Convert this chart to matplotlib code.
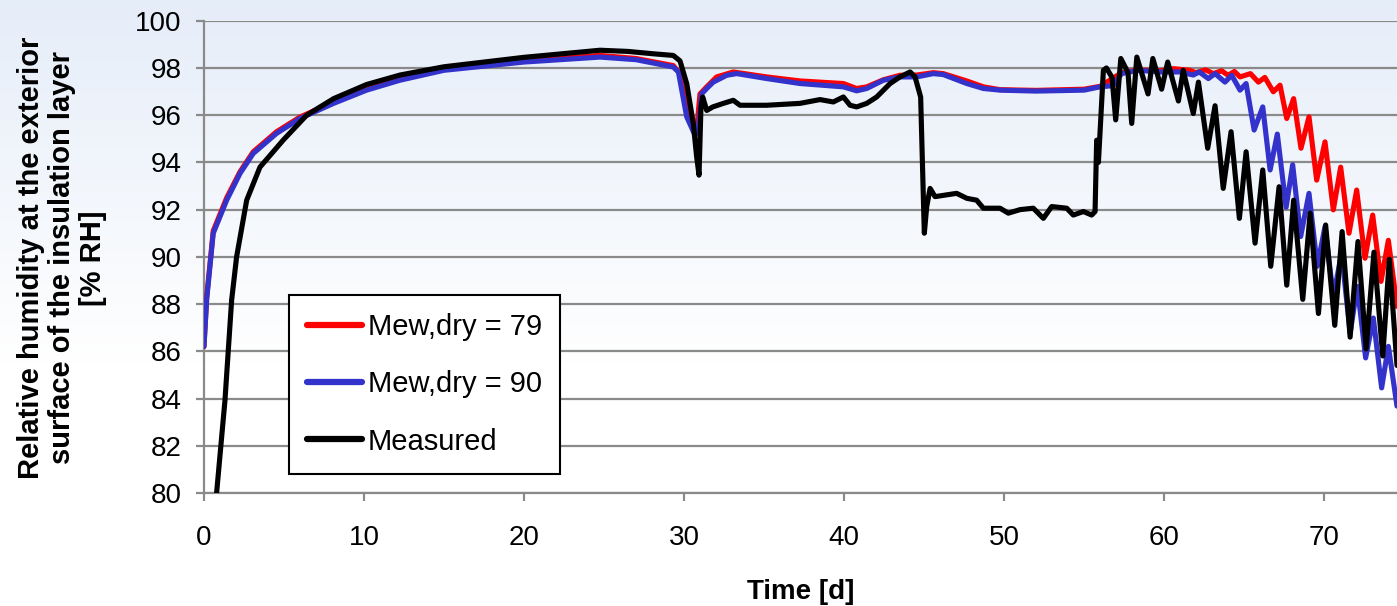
import numpy as np
import matplotlib
matplotlib.use("Agg")
import matplotlib.pyplot as plt

plt.rcParams['font.family'] = ['Liberation Sans', 'DejaVu Sans']

# simulated, Mew,dry = 79
red_day = [0, 0.17, 0.58, 1.42, 2.25, 3.08, 4.54, 6.0, 8.1, 10.17,
           12.25, 15, 20, 24.75, 27, 29.33, 29.75, 30.27, 30.79, 31.0,
           31.42, 32.04, 33.08, 35.17, 37.25, 39.96, 40.79, 41.42, 42.46, 43.5,
           44.54, 45.58, 46.2, 47.67, 48.71, 49.75, 52, 55, 56.0, 57.35,
           58.4, 59.75, 60.58, 61.6, 62.0, 62.6, 63.08, 63.6, 64.0, 64.4,
           64.75, 65.4, 65.9, 66.3, 66.83, 67.25, 67.67, 68.1, 68.56, 69.06,
           69.54, 70.06, 70.58, 71.04, 71.56, 72.04, 72.56, 73.04, 73.56, 74.02,
           74.56]
red_rh = [86.2, 88.3, 91.1, 92.5, 93.6, 94.45, 95.3, 95.92, 96.56, 97.1,
          97.52, 97.95, 98.3, 98.53, 98.4, 98.1, 97.76, 95.93, 95.37, 96.9,
          97.2, 97.62, 97.83, 97.62, 97.45, 97.34, 97.13, 97.2, 97.5, 97.69,
          97.7, 97.8, 97.76, 97.45, 97.2, 97.08, 97.05, 97.1, 97.22, 97.8,
          97.92, 97.88, 97.97, 97.9, 97.8, 97.92, 97.76, 97.88, 97.69, 97.85,
          97.62, 97.76, 97.4, 97.6, 96.99, 97.27, 95.86, 96.7, 94.6, 95.93,
          93.25, 94.87, 91.99, 93.8, 91.0, 92.83, 89.94, 91.77, 88.96, 90.7,
          87.9]

# simulated, Mew,dry = 90
blue_day = [0, 0.17, 0.58, 1.42, 2.25, 3.08, 4.54, 6.0, 8.1, 10.17,
            12.25, 15, 20, 24.75, 27, 29.33, 29.65, 30.17, 30.69, 30.9,
            31.1, 31.42, 31.83, 32.67, 33.3, 35.17, 37.25, 39.96, 40.79, 41.42,
            42.46, 43.5, 44.54, 45.58, 46.2, 47.67, 48.71, 49.75, 52, 55,
            56.0, 56.8, 57.35, 58.4, 59.75, 61.0, 61.83, 62.2, 62.77, 63.19,
            63.81, 64.23, 64.75, 65.13, 65.63, 66.17, 66.63, 67.08, 67.63, 68.04,
            68.54, 69.06, 69.58, 70.06, 70.58, 71.1, 71.63, 72.08, 72.6, 73.08,
            73.6, 74.02, 74.56]
blue_rh = [86.2, 88.2, 91.0, 92.4, 93.53, 94.38, 95.23, 95.86, 96.5, 97.06,
           97.48, 97.9, 98.25, 98.46, 98.35, 98.04, 97.83, 95.93, 95.15, 95.4,
           96.9, 97.13, 97.4, 97.69, 97.76, 97.55, 97.34, 97.2, 97.03, 97.13,
           97.48, 97.62, 97.62, 97.76, 97.72, 97.34, 97.13, 97.06, 97.02, 97.06,
           97.2, 97.25, 97.76, 97.9, 97.83, 97.83, 97.7, 97.83, 97.55, 97.76,
           97.4, 97.69, 97.06, 97.34, 95.37, 96.35, 93.68, 95.2, 92.1, 93.9,
           90.86, 92.69, 89.6, 91.28, 88.32, 90.15, 86.77, 88.75, 85.72, 87.41,
           84.45, 86.21, 83.68]

# measured
black_day = [0.79, 1.31, 1.73, 2.04, 2.67, 3.5, 4.96, 6.42, 8.1, 10.17,
             12.25, 15, 20, 24.75, 26.5, 28.08, 29.33, 29.75, 30.17, 30.58,
             30.79, 30.94, 31.06, 31.17, 31.42, 31.8, 32.46, 33.08, 33.5, 35.17,
             37.25, 38.5, 39.33, 39.96, 40.38, 40.79, 41.42, 42.04, 42.88, 43.5,
             44.13, 44.44, 44.79, 44.92, 45.02, 45.17, 45.38, 45.69, 47.04, 47.67,
             48.29, 48.71, 49.75, 50.27, 51.0, 51.83, 52.46, 52.98, 53.92, 54.33,
             54.96, 55.48, 55.69, 55.79, 55.9, 56.21, 56.4, 56.75, 56.98, 57.3,
             57.75, 57.98, 58.3, 59.0, 59.3, 59.85, 60.23, 60.9, 61.2, 61.83,
             62.15, 62.73, 63.19, 63.7, 64.19, 64.71, 65.13, 65.69, 66.17, 66.67,
             67.19, 67.67, 68.1, 68.67, 69.13, 69.65, 70.1, 70.67, 71.13, 71.63,
             72.12, 72.63, 73.12, 73.67, 74.08, 74.56]
black_rh = [80.0, 83.9, 88.17, 90.0, 92.4, 93.8, 94.95, 96.0, 96.7, 97.3,
            97.7, 98.05, 98.45, 98.75, 98.7, 98.6, 98.53, 98.3, 97.34, 95.65,
            94.24, 93.46, 96.35, 96.77, 96.2, 96.35, 96.5, 96.63, 96.42, 96.42,
            96.5, 96.66, 96.56, 96.77, 96.42, 96.35, 96.5, 96.77, 97.34, 97.62,
            97.83, 97.62, 96.77, 93.5, 91.0, 92.13, 92.9, 92.55, 92.69, 92.48,
            92.4, 92.06, 92.06, 91.85, 92.0, 92.06, 91.63, 92.13, 92.06, 91.77,
            91.92, 91.77, 91.92, 94.94, 94.0, 97.9, 98.0, 97.6, 95.8, 98.4,
            97.8, 95.65, 98.46, 96.9, 98.4, 97.1, 98.25, 96.6, 97.9, 96.07,
            97.4, 94.6, 96.4, 92.9, 95.3, 91.63, 94.45, 90.58, 93.68, 89.6,
            92.97, 88.8, 92.4, 88.2, 91.85, 87.6, 91.35, 87.1, 91.07, 86.6,
            90.65, 86.1, 90.2, 85.8, 89.9, 85.4]

fig = plt.figure(figsize=(13.97, 6.06), dpi=100)

# light blue slide background fading to white
bg = fig.add_axes([0, 0, 1, 1], zorder=-10)
grad = np.linspace(0, 1, 256).reshape(-1, 1)
top = np.array([0.90, 0.93, 0.975])
white = np.array([1.0, 1.0, 1.0])
w = np.clip(grad / 0.6, 0, 1)
img = top * (1 - w) + white * w
bg.imshow(img.reshape(256, 1, 3), aspect='auto', extent=[0, 1, 0, 1])
bg.axis('off')

ax = fig.add_axes([0.146, 0.1865, 0.854, 0.7793])
ax.set_facecolor('none')

lw = 3.7
ax.plot(red_day, red_rh, color='#FF0000', lw=lw, label='Mew,dry = 79',
        solid_joinstyle='round', solid_capstyle='round', zorder=3)
ax.plot(blue_day, blue_rh, color='#3333CC', lw=lw, label='Mew,dry = 90',
        solid_joinstyle='round', solid_capstyle='round', zorder=4)
ax.plot(black_day, black_rh, color='black', lw=lw, label='Measured',
        solid_joinstyle='round', solid_capstyle='round', zorder=5)

ax.set_xlim(0, 74.56)
ax.set_ylim(80, 100)
ax.set_xticks(np.arange(0, 80, 10))
ax.set_yticks(np.arange(80, 101, 2))
ax.grid(axis='y', color='#8a8a8a', lw=1.6)
ax.set_axisbelow(True)
for s in ['top', 'right']:
    ax.spines[s].set_visible(False)
for s in ['left', 'bottom']:
    ax.spines[s].set_color('#8a8a8a')
    ax.spines[s].set_linewidth(1.6)
ax.tick_params(axis='both', colors='#8a8a8a', width=1.6, length=6,
               labelsize=20, labelcolor='black')
ax.tick_params(axis='y', pad=10)
ax.tick_params(axis='x', pad=17)

ax.set_xlabel('Time [d]', fontsize=20, fontweight='bold', labelpad=20)
fig.text(62 / 1397, 1 - 258 / 606,
         'Relative humidity at the exterior\nsurface of the insulation layer\n[% RH]',
         rotation=90, ha='center', va='center', multialignment='center',
         fontsize=21, fontweight='bold', linespacing=1.12)

leg = ax.legend(loc='upper left', bbox_to_anchor=(0.0712, 0.419),
                borderaxespad=0, fontsize=21, frameon=True, fancybox=False,
                framealpha=1, edgecolor='black', handlelength=1.9,
                handletextpad=0.18, labelspacing=1.0, borderpad=0.62)
leg.get_frame().set_linewidth(1.5)
for line in leg.get_lines():
    line.set_linewidth(4.5)

fig.savefig('out.png', dpi=100)
